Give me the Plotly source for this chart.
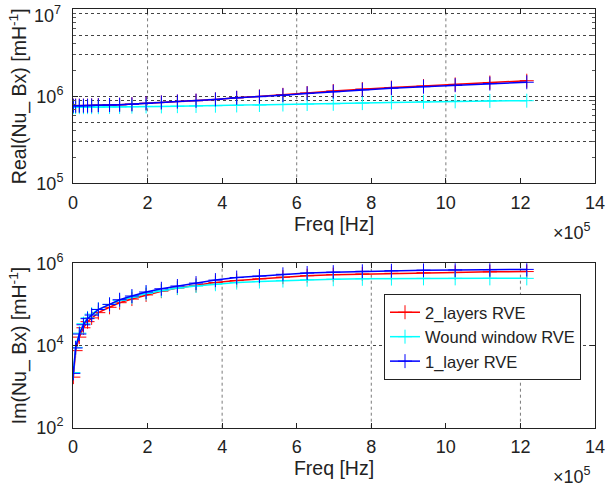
import plotly.graph_objects as go

# Frequencies (Hz)
freq = [1e3, 7e3, 1.7e4, 2.8e4, 3.9e4, 5.0e4, 6.8e4, 9.8e4, 1.25e5, 1.58e5, 1.96e5,
        2.37e5, 2.8e5, 3.3e5, 3.82e5, 4.39e5, 5.0e5, 5.63e5, 6.28e5, 6.98e5, 7.76e5,
        8.54e5, 9.40e5, 1.025e6, 1.118e6, 1.217e6]

# Real part [mH^-1]
real_2layers = [7.8e5, 7.8e5, 7.8e5, 7.8e5, 7.8e5, 7.85e5, 7.9e5, 7.95e5, 8.0e5, 8.1e5, 8.3e5,
                8.5e5, 8.7e5, 8.9e5, 9.2e5, 9.6e5, 9.95e5, 1.04e6, 1.09e6, 1.15e6, 1.21e6,
                1.26e6, 1.31e6, 1.37e6, 1.44e6, 1.51e6]
real_wound = [7.5e5, 7.5e5, 7.5e5, 7.5e5, 7.5e5, 7.5e5, 7.5e5, 7.55e5, 7.55e5, 7.6e5, 7.65e5,
              7.65e5, 7.7e5, 7.75e5, 7.8e5, 7.85e5, 7.95e5, 8.05e5, 8.15e5, 8.2e5, 8.35e5,
              8.5e5, 8.65e5, 8.75e5, 8.85e5, 8.9e5]
real_1layer = [7.8e5, 7.8e5, 7.8e5, 7.8e5, 7.8e5, 7.85e5, 7.9e5, 7.95e5, 8.0e5, 8.1e5, 8.3e5,
               8.5e5, 8.7e5, 8.9e5, 9.2e5, 9.6e5, 9.9e5, 1.03e6, 1.08e6, 1.13e6, 1.19e6,
               1.24e6, 1.29e6, 1.34e6, 1.40e6, 1.45e6]

# Imaginary part [mH^-1]
im_2layers = [1.7e3, 7.5e3, 1.6e4, 2.7e4, 3.8e4, 4.7e4, 6.3e4, 8.5e4, 1.1e5, 1.35e5, 1.7e5,
              2.1e5, 2.5e5, 2.9e5, 3.4e5, 3.8e5, 4.2e5, 4.6e5, 5.0e5, 5.3e5, 5.5e5,
              5.7e5, 5.9e5, 6.0e5, 6.2e5, 6.3e5]
im_wound = [2.2e3, 9.0e3, 2.0e4, 3.4e4, 4.7e4, 5.8e4, 7.6e4, 1.0e5, 1.25e5, 1.5e5, 1.85e5,
            2.15e5, 2.5e5, 2.8e5, 3.1e5, 3.4e5, 3.6e5, 3.8e5, 4.0e5, 4.1e5, 4.2e5,
            4.25e5, 4.3e5, 4.3e5, 4.3e5, 4.3e5]
im_1layer = [2.1e3, 8.7e3, 1.9e4, 3.2e4, 4.5e4, 5.5e4, 7.5e4, 1.0e5, 1.3e5, 1.6e5, 2.0e5,
             2.4e5, 2.8e5, 3.3e5, 3.9e5, 4.5e5, 4.9e5, 5.4e5, 5.8e5, 6.1e5, 6.4e5,
             6.6e5, 6.8e5, 6.9e5, 7.0e5, 7.1e5]

series_names = ["2_layers RVE", "Wound window RVE", "1_layer RVE"]
series_colors = ["#FF0000", "#00FFFF", "#0000FF"]

xtick_vals = [0, 2e5, 4e5, 6e5, 8e5, 10e5, 12e5, 14e5]
xtick_text = ["0", "2", "4", "6", "8", "10", "12", "14"]

# grid positions (as in the reference rendering)
top_xgrid = [2e5, 6e5, 10e5]
bot_xgrid = [4e5, 8e5, 12e5]
top_ygrid = [3e5, 5e5, 9e5, 1e6, 3e6, 5e6, 9e6]
bot_ygrid = [1e4]
top_yminor = [2e5, 3e5, 4e5, 5e5, 6e5, 7e5, 8e5, 9e5, 2e6, 3e6, 4e6, 5e6, 6e6, 7e6, 8e6, 9e6]

FONT = "Arial, Liberation Sans, sans-serif"
INK = "#222"

fig = go.Figure()

real_sets = [real_2layers, real_wound, real_1layer]
im_sets = [im_2layers, im_wound, im_1layer]
for name, col, re_vals, im_vals in zip(series_names, series_colors, real_sets, im_sets):
    mk = dict(symbol="cross-thin", size=10, line=dict(color=col, width=1), color=col)
    fig.add_trace(go.Scatter(x=freq, y=re_vals, mode="lines+markers", name=name,
                             line=dict(color=col, width=1.5), marker=mk,
                             xaxis="x", yaxis="y", showlegend=False))
    fig.add_trace(go.Scatter(x=freq, y=im_vals, mode="lines+markers", name=name,
                             line=dict(color=col, width=1.5), marker=mk,
                             xaxis="x2", yaxis="y2", showlegend=True))

# empty traces so that the helper (grid / minor tick) y axes get drawn
for xa, ya in [("x", "y3"), ("x2", "y4"), ("x", "y5")]:
    fig.add_trace(go.Scatter(x=[], y=[], xaxis=xa, yaxis=ya, showlegend=False,
                             hoverinfo="skip"))

xd = [73 / 607, 595 / 607]
top_dom = [1 - 183.3 / 490, 1 - 9.3 / 490]
bot_dom = [1 - 427.7 / 490, 1 - 263.3 / 490]
top_range = [4.9999, 7.0001]
bot_range = [1.9999, 6.0001]

common_x = dict(range=[0, 1.4e6], tickvals=xtick_vals, ticktext=xtick_text,
                showline=True, linecolor=INK, linewidth=1, mirror="ticks",
                ticks="inside", ticklen=5, tickcolor=INK, showgrid=False,
                zeroline=False, tickfont=dict(size=18, color=INK, family=FONT),
                ticklabelstandoff=3, automargin=False, ticklabeloverflow="allow",
                title=dict(text="Freq [Hz]", font=dict(size=19.5, color=INK, family=FONT),
                           standoff=5))

grid_y = dict(showgrid=True, gridcolor="#444", griddash="dot", gridwidth=1,
              showticklabels=False, ticks="", showline=False, zeroline=False,
              automargin=False, type="log")

shapes = []
for v in top_xgrid:
    shapes.append(dict(type="line", xref="x", yref="y domain", x0=v, x1=v, y0=0, y1=1,
                       line=dict(color="#7a7a7a", width=1, dash="dot"), layer="below"))
for v in bot_xgrid:
    shapes.append(dict(type="line", xref="x2", yref="y2 domain", x0=v, x1=v, y0=0, y1=1,
                       line=dict(color="#7a7a7a", width=1, dash="dot"), layer="below"))

fig.update_layout(
    width=607, height=490,
    margin=dict(l=0, r=0, t=0, b=0),
    paper_bgcolor="white", plot_bgcolor="white",
    font=dict(family=FONT, color=INK),
    hovermode=False,
    xaxis=dict(domain=xd, anchor="y", **common_x),
    xaxis2=dict(domain=xd, anchor="y2", **common_x),
    yaxis=dict(domain=top_dom, anchor="x", type="log", range=top_range,
               tickvals=[1e5, 1e6, 1e7],
               ticktext=["10<sup>5</sup>", "10<sup>6</sup>", ""],
               showgrid=False, ticks="inside", ticklen=5, tickcolor=INK,
               showline=True, linecolor=INK, linewidth=1, mirror="ticks",
               zeroline=False, tickfont=dict(size=18, color=INK, family=FONT),
               automargin=False, ticklabeloverflow="allow", ticklabelstandoff=5,
               title=dict(text="Real(Nu_ Bx) [mH<sup>-1</sup>]",
                          font=dict(size=19.5, color=INK, family=FONT), standoff=4)),
    yaxis3=dict(overlaying="y", anchor="x", range=top_range, tickvals=top_ygrid, **grid_y),
    yaxis5=dict(overlaying="y", anchor="x", range=top_range, tickvals=top_yminor,
                showgrid=False, showticklabels=False, ticks="inside", ticklen=3,
                tickcolor="#555", showline=False, zeroline=False, mirror="ticks",
                automargin=False, type="log"),
    yaxis2=dict(domain=bot_dom, anchor="x2", type="log", range=bot_range,
                tickvals=[1e2, 1e4, 1e6],
                ticktext=["10<sup>2</sup>", "10<sup>4</sup>", "10<sup>6</sup>"],
                showgrid=False, ticks="inside", ticklen=5, tickcolor=INK,
                showline=True, linecolor=INK, linewidth=1, mirror="ticks",
                zeroline=False, tickfont=dict(size=18, color=INK, family=FONT),
                automargin=False, ticklabeloverflow="allow", ticklabelstandoff=5,
                title=dict(text="Im(Nu_ Bx) [mH<sup>-1</sup>]",
                           font=dict(size=19.5, color=INK, family=FONT), standoff=4)),
    yaxis4=dict(overlaying="y2", anchor="x2", range=bot_range, tickvals=bot_ygrid, **grid_y),
    legend=dict(x=384 / 607, y=1 - 294 / 490, xanchor="left", yanchor="top",
                bgcolor="white", bordercolor=INK, borderwidth=1,
                font=dict(size=16.5, color=INK, family=FONT),
                tracegroupgap=0),
    shapes=shapes,
    annotations=[
        # top decade label, nudged down inside the figure as in the reference
        dict(text="10<sup>7</sup>", x=63 / 607, y=1 - 1 / 490, xref="paper", yref="paper",
             xanchor="right", yanchor="top", showarrow=False,
             font=dict(size=18, color=INK, family=FONT)),
        dict(text="\u00d710<sup>5</sup>", x=593 / 607, y=1 - 231 / 490, xref="paper", yref="paper",
             xanchor="right", yanchor="middle", showarrow=False,
             font=dict(size=18, color=INK, family=FONT)),
        dict(text="\u00d710<sup>5</sup>", x=593 / 607, y=1 - 475 / 490, xref="paper", yref="paper",
             xanchor="right", yanchor="middle", showarrow=False,
             font=dict(size=18, color=INK, family=FONT)),
    ],
)

fig.write_html("out.html", config={"displayModeBar": False},
               post_script="document.body.style.margin='0';")
